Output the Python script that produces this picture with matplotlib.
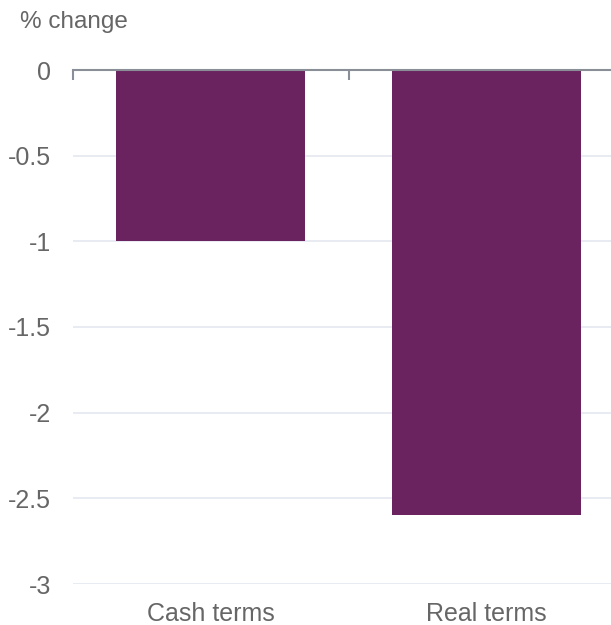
import matplotlib
matplotlib.use("Agg")
import matplotlib.pyplot as plt

categories = ["Cash terms", "Real terms"]
values = [-1.0, -2.6]
yticks = [0, -0.5, -1, -1.5, -2, -2.5, -3]
ytick_labels = ["0", "-0.5", "-1", "-1.5", "-2", "-2.5", "-3"]

bar_color = "#6b2360"
text_color = "#666666"
grid_color = "#e4e7f0"
axis_color = "#8a8e96"

plt.rcParams["font.family"] = ["Liberation Sans", "DejaVu Sans"]

fig = plt.figure(figsize=(6.11, 6.25), dpi=100)
# plot area runs past the right edge of the image, like the original
ax = fig.add_axes([73 / 611, 41 / 625, 551 / 611, 514 / 625])

x = list(range(len(categories)))
ax.bar(x, values, width=0.685, color=bar_color, zorder=3)

ax.set_xlim(-0.5, len(categories) - 0.5)
ax.set_ylim(-3, 0)

ax.set_yticks(yticks)
ax.set_yticklabels(ytick_labels)
ax.set_xticks(x)
ax.set_xticklabels(categories)
ax.tick_params(axis="y", length=0, pad=16, labelsize=18, labelcolor=text_color)
ax.tick_params(axis="x", length=0, pad=13, labelsize=18, labelcolor=text_color)

ax.grid(axis="y", color=grid_color, linewidth=1.2, zorder=0)
for s in ["left", "right", "bottom"]:
    ax.spines[s].set_visible(False)
ax.spines["top"].set_color(axis_color)
ax.spines["top"].set_linewidth(1.5)
ax.spines["top"].set_zorder(4)

# category boundary ticks hanging from the zero line
top = ax.secondary_xaxis("top")
top.set_xticks([i - 0.5 for i in range(len(categories) + 1)])
top.tick_params(direction="in", length=7, width=1.5, color=axis_color, labeltop=False)
top.spines["top"].set_visible(False)

fig.text(20 / 611, 1 - 22 / 625, "% change", fontsize=17.5, color=text_color,
         va="center", ha="left")

fig.savefig("out.png", dpi=100)
